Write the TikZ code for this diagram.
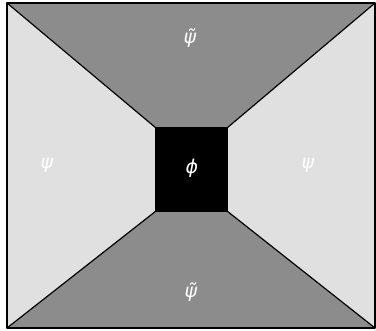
\documentclass[tikz,border=0pt]{standalone}
\usepackage{fontspec}
\setmainfont{DejaVu Sans}
\begin{document}
\begin{tikzpicture}[x=1pt,y=1pt,
  region/.style={draw=black,line width=1.2pt,line join=round},
  lab/.style={text=white,font=\fontsize{19}{22}\selectfont\itshape}]
\useasboundingbox (0,0) rectangle (376,331);
\coordinate (A) at (7,328);
\coordinate (B) at (375,328);
\coordinate (C) at (375,3);
\coordinate (D) at (7,3);
\coordinate (a) at (156,203);
\coordinate (b) at (227,203);
\coordinate (c) at (227,120);
\coordinate (d) at (156,120);
\fill[black!45] (A) -- (B) -- (b) -- (a) -- cycle;
\fill[black!45] (D) -- (C) -- (c) -- (d) -- cycle;
\fill[black!12] (A) -- (a) -- (d) -- (D) -- cycle;
\fill[black!12] (B) -- (b) -- (c) -- (C) -- cycle;
\fill[black] (a) rectangle (c);
\draw[region] (A) -- (a) (B) -- (b) (C) -- (c) (D) -- (d);
\draw[region] (a) rectangle (c);
\draw[region] (A) rectangle (C);
\node[lab] (top) at (190,293) {ψ̃};
\node[lab] (bot) at (191,39) {ψ̃};
\node[lab] (lft) at (47,166) {ψ};
\node[lab] (rgt) at (308,166) {ψ};
\node[lab] (ctr) at (192,163) {ϕ};
\end{tikzpicture}
\end{document}
